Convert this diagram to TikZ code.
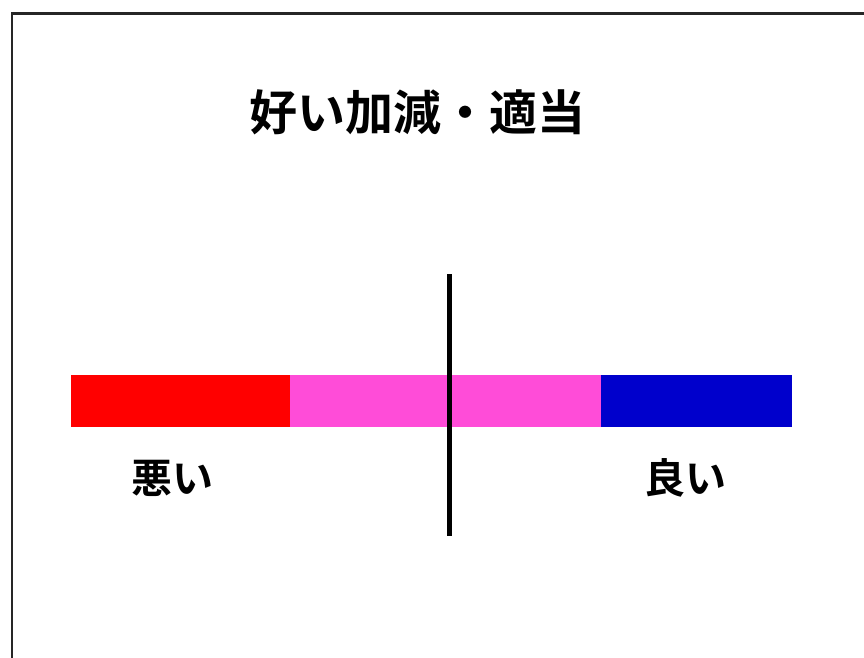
\documentclass[tikz,border=0pt]{standalone}
\usepackage{fontspec}
\newfontfamily\jpfont{Noto Sans CJK JP}[BoldFont={* Bold}]
\definecolor{barred}{RGB}{255,0,0}
\definecolor{barpink}{RGB}{255,76,216}
\definecolor{barblue}{RGB}{0,0,204}
\begin{document}
\begin{tikzpicture}[x=1pt,y=-1pt,
  seg/.style={draw=none,inner sep=0pt,outer sep=0pt,minimum height=52pt,anchor=north west},
  lbl/.style={inner sep=0pt,font=\jpfont\bfseries\fontsize{41}{41}\selectfont},
  ttl/.style={inner sep=0pt,font=\jpfont\bfseries\fontsize{48}{48}\selectfont}]
\useasboundingbox (0,0) rectangle (864,657);
\fill[white] (0,0) rectangle (864,657);
% frame
\coordinate (fc) at (12,13.5);
\coordinate (fr) at (870,13.5);
\coordinate (fb) at (12,665);
\draw[line width=2.2pt,black!85] (fr) -- (fc) -- (fb);
% title
\node[ttl] (title) at (417,112) {好い加減・適当};
% bar
\node[seg,fill=barred,minimum width=219pt] (red) at (71,375) {};
\node[seg,fill=barpink,minimum width=311pt] (pink) at (290,375) {};
\node[seg,fill=barblue,minimum width=191pt] (blue) at (601,375) {};
% divider
\coordinate (vt) at (449,274);
\coordinate (vb) at (449,536);
\draw[line width=5pt,black] (vt) -- (vb);
% labels
\node[lbl] (bad) at (172,478) {悪い};
\node[lbl] (good) at (685,478) {良い};
\end{tikzpicture}
\end{document}
